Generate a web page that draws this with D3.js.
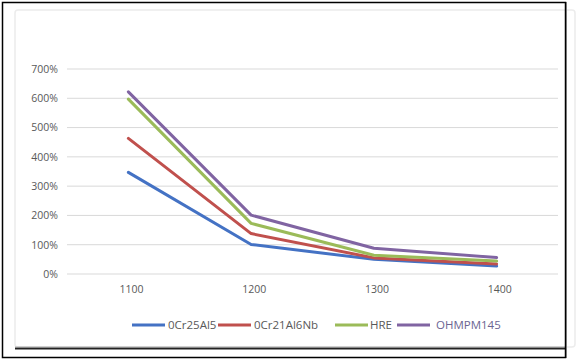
<!DOCTYPE html>
<html><head><meta charset="utf-8">
<script src="https://cdn.jsdelivr.net/npm/d3@7"></script>
<style>body{margin:0;background:#fff}svg{display:block}</style>
</head><body>
<script>
const categories = ["1100","1200","1300","1400"];
const seriesNames = ["0Cr25Al5","0Cr21Al6Nb","HRE","OHMPM145"];
const s0Cr25Al5 = [347,101,50,27];
const s0Cr21Al6Nb = [463,138,55,34];
const sHRE = [597,173,64,44];
const sOHMPM145 = [622,201,88,56];
const yTicks = [0,100,200,300,400,500,600,700];
const colors = ["#4472C4","#C0504D","#9BBB59","#8064A2"];
const seriesValues = [s0Cr25Al5,s0Cr21Al6Nb,sHRE,sOHMPM145];

const W=580,H=361;
const svg=d3.select("body").append("svg").attr("width",W).attr("height",H);
svg.append("rect").attr("width",W).attr("height",H).attr("fill","#fff");

svg.append("rect").attr("x",15).attr("y",10).attr("width",560).attr("height",337)
  .attr("rx",3).attr("fill","none").attr("stroke","#ececec").attr("stroke-width",1.5);

const x=d3.scaleBand().domain(categories).range([67,558]);
const y=d3.scaleLinear().domain([0,700]).range([274,69]);

const grid=svg.append("g");
yTicks.forEach(t=>{
  grid.append("line").attr("x1",67).attr("x2",558).attr("y1",y(t)).attr("y2",y(t))
    .attr("stroke","#d9d9d9").attr("stroke-width",1);
});
const yAxis=d3.axisLeft(y).tickValues(yTicks).tickFormat(d=>d+"%").tickSize(0).tickPadding(0);
const ga=svg.append("g").attr("transform","translate(58,0)").call(yAxis);
ga.select(".domain").remove();
ga.selectAll("text").attr("font-family","Open Sans, sans-serif").attr("font-size",10.5).attr("fill","#595959");

const xAxis=d3.axisBottom(x).tickSize(0).tickPadding(0);
const gx=svg.append("g").attr("transform","translate(3,286)").call(xAxis);
gx.select(".domain").remove();
gx.selectAll("text").attr("font-family","Open Sans, sans-serif").attr("font-size",10.5).attr("fill","#595959");

const line=d3.line().x((d,i)=>x(categories[i])+x.bandwidth()/2).y(d=>y(d));
seriesValues.forEach((vals,k)=>{
  svg.append("path").datum(vals).attr("d",line).attr("fill","none")
    .attr("stroke",colors[k]).attr("stroke-width",3).attr("stroke-linejoin","round").attr("stroke-linecap","round");
});

// legend
const legX=[132,218,335,397];
const legTextX=[168,254,370,436];
const lg=svg.append("g");
seriesNames.forEach((n,k)=>{
  lg.append("line").attr("x1",legX[k]).attr("x2",legX[k]+33).attr("y1",325).attr("y2",325)
    .attr("stroke",colors[k]).attr("stroke-width",3);
  lg.append("text").attr("x",legTextX[k]).attr("y",329).text(n)
    .attr("font-family","Open Sans, sans-serif").attr("font-size",11.5)
    .attr("fill",k===3?"#6b6592":"#595959");
});

svg.append("line").attr("x1",15).attr("x2",566).attr("y1",348.5).attr("y2",348.5).attr("stroke","#222").attr("stroke-width",2);
svg.append("line").attr("x1",15).attr("x2",566).attr("y1",346.5).attr("y2",346.5).attr("stroke","#cfcfcf").attr("stroke-width",1);
svg.append("rect").attr("x",2.5).attr("y",2.5).attr("width",563).attr("height",355)
  .attr("fill","none").attr("stroke","#000").attr("stroke-width",1.5);
svg.append("line").attr("x1",566.5).attr("x2",566.5).attr("y1",2).attr("y2",358).attr("stroke","#777").attr("stroke-width",1);
</script>
</body></html>
